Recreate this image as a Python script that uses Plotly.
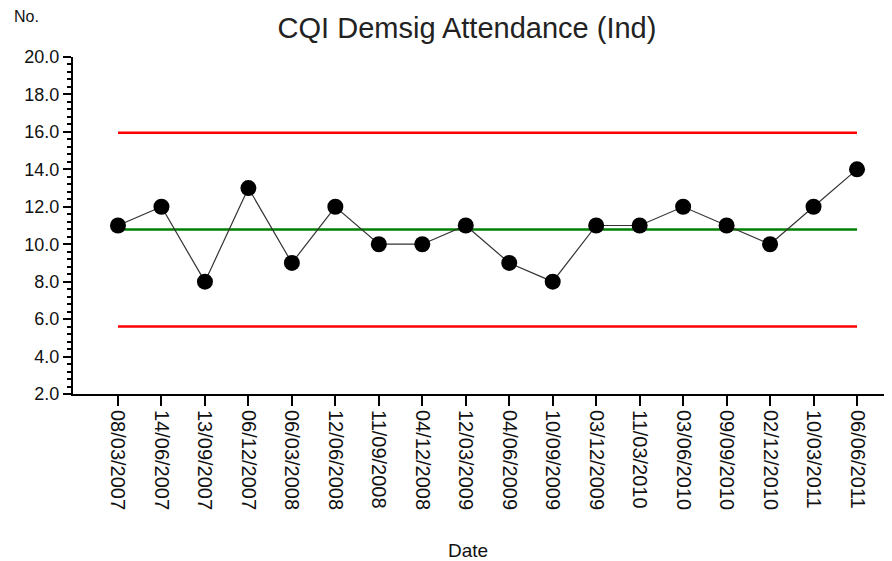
import plotly.graph_objects as go

dates = [
    "08/03/2007", "14/06/2007", "13/09/2007", "06/12/2007", "06/03/2008",
    "12/06/2008", "11/09/2008", "04/12/2008", "12/03/2009", "04/06/2009",
    "10/09/2009", "03/12/2009", "11/03/2010", "03/06/2010", "09/09/2010",
    "02/12/2010", "10/03/2011", "06/06/2011",
]
attendance = [11, 12, 8, 13, 9, 12, 10, 10, 11, 9, 8, 11, 11, 12, 11, 10, 12, 14]
mean_line = 10.78
upper_limit = 15.95
lower_limit = 5.6

font = "Arial, Liberation Sans, sans-serif"
text_col = "#111111"

# page body has an 8px margin, so the figure is drawn 8px smaller
W, H = 884, 553
L, T, B, R = 65, 49, 167, 0

fig = go.Figure()
for level, colour in [(upper_limit, "#ff0000"), (lower_limit, "#ff0000"), (mean_line, "#008000")]:
    fig.add_trace(
        go.Scatter(
            x=dates,
            y=[level] * len(dates),
            mode="lines",
            line=dict(color=colour, width=2.5),
            hoverinfo="skip",
        )
    )
fig.add_trace(
    go.Scatter(
        x=dates,
        y=attendance,
        mode="lines+markers",
        line=dict(color="#333333", width=1.2),
        marker=dict(color="black", size=16, symbol="circle"),
    )
)

plot_w = W - L - R
plot_h = H - T - B

fig.update_layout(
    width=W,
    height=H,
    paper_bgcolor="white",
    plot_bgcolor="white",
    showlegend=False,
    margin=dict(l=L, r=R, t=T, b=B),
    font=dict(family=font, color=text_col),
    title=dict(
        text="CQI Demsig Attendance (Ind)",
        x=459 / W,
        xanchor="center",
        y=1 - 20 / H,
        yanchor="middle",
        font=dict(size=29, color="#222222"),
    ),
    annotations=[
        dict(
            text="No.",
            x=(18 - L) / plot_w,
            y=1 + (T - 9) / plot_h,
            xref="paper",
            yref="paper",
            xanchor="center",
            yanchor="middle",
            showarrow=False,
            font=dict(size=16, color=text_col),
        ),
        dict(
            text="Date",
            x=(460 - L) / plot_w,
            y=-(542 - (H - B)) / plot_h,
            xref="paper",
            yref="paper",
            xanchor="center",
            yanchor="middle",
            showarrow=False,
            font=dict(size=19, color=text_col),
        ),
    ],
)

fig.update_xaxes(
    type="category",
    range=[-1.035, 17.805],
    showgrid=False,
    showline=True,
    linecolor="black",
    linewidth=2,
    ticks="outside",
    ticklen=10,
    tickwidth=2,
    tickcolor="black",
    tickangle=90,
    tickfont=dict(size=20, color=text_col),
    zeroline=False,
    automargin=False,
)
fig.update_yaxes(
    range=[2, 20],
    dtick=2,
    tickformat=".1f",
    showgrid=False,
    showline=True,
    linecolor="black",
    linewidth=2,
    ticks="outside",
    ticklen=8,
    tickwidth=2,
    tickcolor="black",
    tickfont=dict(size=18, color=text_col),
    minor=dict(dtick=0.4, ticks="outside", ticklen=4, tickwidth=1.5, tickcolor="black"),
    zeroline=False,
    automargin=False,
)

fig.write_html("out.html")
